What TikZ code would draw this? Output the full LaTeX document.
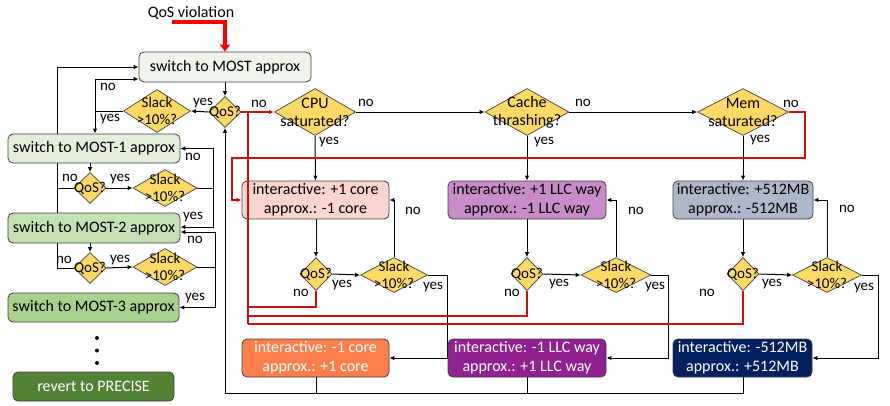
\documentclass[tikz,border=0pt]{standalone}
\usepackage{fontspec}
\setmainfont{Carlito}
\usetikzlibrary{shapes.geometric,arrows.meta,calc}
\pgfdeclarelayer{bg}
\pgfsetlayers{bg,main}
\definecolor{gold}{HTML}{FFD966}
\definecolor{gA}{HTML}{F0F5EB}
\definecolor{gB}{HTML}{E2EFDA}
\definecolor{gC}{HTML}{C5E0B4}
\definecolor{gD}{HTML}{A9D18E}
\definecolor{gE}{HTML}{548235}
\definecolor{pA}{HTML}{FDD5CE}
\definecolor{pB}{HTML}{C88CC8}
\definecolor{pC}{HTML}{ADB9CA}
\definecolor{nA}{HTML}{FF7F4C}
\definecolor{nB}{HTML}{912091}
\definecolor{nC}{HTML}{002060}
\definecolor{redl}{HTML}{CC1010}
\definecolor{bord}{HTML}{404040}
\tikzset{
  box/.style={rounded corners=5pt, draw=bord, line width=0.8pt, inner sep=0pt, align=center,
    font=\fontsize{16}{19}\selectfont},
  dia/.style={diamond, draw=bord, fill=gold, line width=0.7pt, inner sep=0pt},
  dlab/.style={font=\fontsize{15}{17}\selectfont, align=center, inner sep=0pt},
  dlabb/.style={font=\fontsize{16}{18}\selectfont, align=center, inner sep=0pt},
  lbl/.style={font=\fontsize{15}{17}\selectfont, inner sep=0pt},
  conn/.style={line width=1pt, draw=black},
  arr/.style={conn, -{Latex[length=5pt,width=4.5pt]}},
  redc/.style={line width=1.1pt, draw=redl},
  redarr/.style={redc, -{Latex[length=5pt,width=4.5pt]}},
  redthick/.style={line width=3.5pt, draw=red, -{Triangle[length=7pt,width=10pt]}},
}
\begin{document}
\begin{tikzpicture}[x=1pt,y=-1pt]
\useasboundingbox (0,0) rectangle (890,405);

% title
\node[font=\fontsize{16}{18}\selectfont, inner sep=0pt] (qvt) at (191,13) {QoS violation};
\coordinate (qvs) at (172,22);

% left column boxes
\node[box, fill=gA, minimum width=172pt, minimum height=30pt] (A) at (225,67) {switch to MOST approx};
\node[box, fill=gB, minimum width=172pt, minimum height=29pt] (B) at (94,148.5) {switch to MOST-1 approx};
\node[box, fill=gC, minimum width=172pt, minimum height=30pt] (C) at (94,228) {switch to MOST-2 approx};
\node[box, fill=gD, minimum width=171pt, minimum height=29pt] (D) at (93.5,307.5) {switch to MOST-3 approx};
\node[box, fill=gE, text=white, minimum width=161pt, minimum height=29pt] (E) at (93.5,386.5) {revert to PRECISE};
\fill (97,338) circle (2pt) (97,350.5) circle (2pt) (97,363) circle (2pt);

% left diamonds
\node[dia, minimum width=32pt, minimum height=31pt, label={[dlab]center:QoS?}] (q0) at (225,112) {};
\node[dia, minimum width=67pt, minimum height=43pt, label={[dlab]center:Slack\\>10\%?}] (s0) at (157,111) {};
\node[dia, minimum width=32pt, minimum height=31pt, label={[dlab]center:QoS?}] (ql1) at (90,188) {};
\node[dia, minimum width=64pt, minimum height=37pt, label={[dlab]center:Slack\\>10\%?}] (sl1) at (165,188) {};
\node[dia, minimum width=32pt, minimum height=31pt, label={[dlab]center:QoS?}] (ql2) at (90,268) {};
\node[dia, minimum width=64pt, minimum height=37pt, label={[dlab]center:Slack\\>10\%?}] (sl2) at (165,267) {};

% top decision diamonds
\node[dia, minimum width=81pt, minimum height=47pt, label={[dlabb]center:CPU\\saturated?}] (cpu) at (315,112) {};
\node[dia, minimum width=84pt, minimum height=47pt, label={[dlabb]center:Cache\\thrashing?}] (cache) at (527,112) {};
\node[dia, minimum width=91pt, minimum height=47pt, label={[dlabb]center:Mem\\saturated?}] (mem) at (743,112) {};

% resource boxes
\node[box, fill=pA, minimum width=147pt, minimum height=38pt] (P1) at (315.5,200) {interactive: +1 core\\approx.: -1 core};
\node[box, fill=pB, minimum width=158pt, minimum height=38pt] (P2) at (527,200) {interactive: +1 LLC way\\approx.: -1 LLC way};
\node[box, fill=pC, minimum width=140pt, minimum height=38pt] (P3) at (743,200) {interactive: +512MB\\approx.: -512MB};
\node[box, fill=nA, text=white, minimum width=147pt, minimum height=38pt] (N1) at (315.5,358) {interactive: -1 core\\approx.: +1 core};
\node[box, fill=nB, text=white, minimum width=158pt, minimum height=38pt] (N2) at (527,358) {interactive: -1 LLC way\\approx.: +1 LLC way};
\node[box, fill=nC, text=white, minimum width=139pt, minimum height=38pt] (N3) at (742.5,358) {interactive: -512MB\\approx.: +512MB};

% lower diamonds
\node[dia, minimum width=32pt, minimum height=33pt, label={[dlab]center:QoS?}] (qa) at (316,274) {};
\node[dia, minimum width=67pt, minimum height=35pt, label={[dlab]center:Slack\\>10\%?}] (sa) at (394,275) {};
\node[dia, minimum width=32pt, minimum height=33pt, label={[dlab]center:QoS?}] (qb) at (527,274) {};
\node[dia, minimum width=70pt, minimum height=35pt, label={[dlab]center:Slack\\>10\%?}] (sb) at (616,275) {};
\node[dia, minimum width=32pt, minimum height=33pt, label={[dlab]center:QoS?}] (qc) at (743,274) {};
\node[dia, minimum width=69pt, minimum height=35pt, label={[dlab]center:Slack\\>10\%?}] (sc) at (827,275) {};

% junction coordinates
\coordinate (j0) at (95,111);
\coordinate (jl) at (57,268);
\coordinate (j1) at (213.5,188);
\coordinate (j2) at (215,267);
\coordinate (ja) at (447,275);
\coordinate (jb) at (668,275);
\coordinate (jc) at (878,275);
\coordinate (bot) at (225,393);
\coordinate (jr0) at (248,112);
\coordinate (jr1) at (248,307);
\coordinate (jr2) at (248,316);
\coordinate (jr3) at (248,324);
\coordinate (m1) at (805,158);
\coordinate (m2) at (232,158);

\begin{pgfonlayer}{bg}
% left column
\draw[arr] (A.south) -- (q0.north);
\draw[arr] (q0.west) -- (s0.east);
\draw[conn] (s0.west) -- (j0);
\draw[arr] (j0) |- ([yshift=-12pt]A.west);
\draw[arr] (j0) -- (j0 |- B.north);
\draw[arr] (jl) |- (A.west);
\draw[conn] (ql2.west) -- (jl);
\draw[conn] (ql1.west) -- (ql1.west -| jl);
\draw[arr] (ql1.north |- B.south) -- (ql1.north);
\draw[arr] (ql1.east) -- (sl1.west);
\draw[conn] (sl1.east) -- (j1);
\draw[arr] (j1) |- (B.east);
\draw[arr] (j1) |- ([yshift=1pt]C.east);
\draw[arr] (ql2.north |- C.south) -- (ql2.north);
\draw[arr] (ql2.east) -- (sl2.west);
\draw[conn] (sl2.east) -- (j2);
\draw[arr] (j2) |- ([yshift=-4pt]C.east);
\draw[arr] (j2) |- (D.east);
% main chain
\draw[arr] (cpu.east) -- (cache.west);
\draw[arr] (cache.east) -- (mem.west);
\draw[arr] (cpu.south) -- (P1.north);
\draw[arr] (cache.south) -- (P2.north);
\draw[arr] (mem.south) -- (P3.north);
\draw[arr] (P1.south -| qa.north) -- (qa.north);
\draw[arr] (P2.south) -- (qb.north);
\draw[arr] (P3.south) -- (qc.north);
\draw[arr] (qa.east) -- (sa.west);
\draw[arr] (qb.east) -- (sb.west);
\draw[arr] (qc.east) -- (sc.west);
\draw[arr] (sa.north) |- (P1.east);
\draw[arr] (sb.north) |- (P2.east);
\draw[arr] (sc.north) |- (P3.east);
\draw[conn] (sa.east) -- (ja);
\draw[arr] (ja) |- (N1.east);
\draw[conn] (sb.east) -- (jb);
\draw[arr] (jb) |- (N2.east);
\draw[conn] (sc.east) -- (jc);
\draw[arr] (jc) |- (N3.east);
\draw[conn] (N1.south -| qa.south) -- (qa.south |- bot);
\draw[conn] (N2.south) -- (N2.south |- bot);
\draw[arr] (N3.south -| qc.south) |- (bot) -- (q0.south);
\end{pgfonlayer}

% red connectors
\draw[redthick] (qvs) -| (A.north);
\draw[redc] (q0.east) -- (jr0);
\draw[redc] (qa.south) |- (jr1);
\draw[redc] (qb.south) |- (jr2);
\draw[redc] (qc.south) |- (jr3);
\draw[redarr] (jr3) |- (cpu.west);
\draw[redarr] (mem.east) -| (m1) -- (m2) |- (P1.west);

% labels
\node[lbl] (l01) at (203,103) {yes};
\node[lbl] (l02) at (259,104) {no};
\node[lbl] (l03) at (108,87) {no};
\node[lbl] (l04) at (110,119) {yes};
\node[lbl] (l05) at (366,103) {no};
\node[lbl] (l06) at (329,142) {yes};
\node[lbl] (l07) at (583,103) {no};
\node[lbl] (l08) at (544,142) {yes};
\node[lbl] (l09) at (791,104) {no};
\node[lbl] (l10) at (760,140) {yes};
\node[lbl] (l11) at (70,178) {no};
\node[lbl] (l12) at (120,179) {yes};
\node[lbl] (l13) at (193,157) {no};
\node[lbl] (l14) at (193,217) {yes};
\node[lbl] (l15) at (64,260) {no};
\node[lbl] (l16) at (120,260) {yes};
\node[lbl] (l17) at (195,240) {no};
\node[lbl] (l18) at (195,298) {yes};
\node[lbl] (l19) at (342,285) {yes};
\node[lbl] (l20) at (301,293) {no};
\node[lbl] (l21) at (413,211) {no};
\node[lbl] (l22) at (433,287) {yes};
\node[lbl] (l23) at (559,284) {yes};
\node[lbl] (l24) at (512,293) {no};
\node[lbl] (l25) at (636,211) {no};
\node[lbl] (l26) at (655,287) {yes};
\node[lbl] (l27) at (772,284) {yes};
\node[lbl] (l28) at (707,293) {no};
\node[lbl] (l29) at (847,209) {no};
\node[lbl] (l30) at (864,288) {yes};
\end{tikzpicture}
\end{document}
